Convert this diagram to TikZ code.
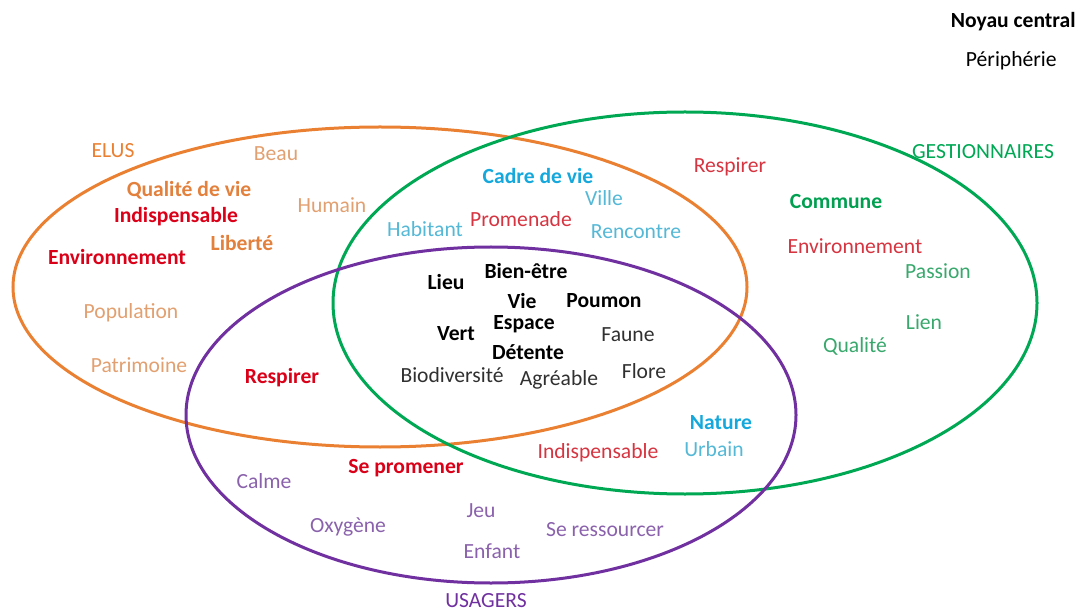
\documentclass[tikz,border=0pt]{standalone}
\usepackage{fontspec}
\setmainfont{Carlito}
\usetikzlibrary{positioning}
\definecolor{ElusOrange}{RGB}{234,128,50}
\definecolor{GestGreen}{RGB}{0,168,84}
\definecolor{UsagPurple}{RGB}{112,48,160}
\definecolor{OrangeCore}{RGB}{226,128,60}
\definecolor{OrangePeri}{RGB}{226,160,112}
\definecolor{RedCore}{RGB}{218,0,24}
\definecolor{RedPeri}{RGB}{214,52,64}
\definecolor{BlueCore}{RGB}{20,168,220}
\definecolor{BluePeri}{RGB}{84,184,214}
\definecolor{GreenCore}{RGB}{0,160,80}
\definecolor{GreenPeri}{RGB}{56,168,108}
\definecolor{PurplePeri}{RGB}{138,98,172}
\definecolor{GreyPeri}{RGB}{48,48,48}
\newcommand{\wordsize}{\fontsize{10.8}{13}\selectfont}
\tikzset{
  noyau/.style={font=\wordsize\bfseries,inner sep=0pt},
  periph/.style={font=\wordsize,inner sep=0pt},
  zone/.style={line width=1.5pt}
}

\begin{document}
\begin{tikzpicture}[x=0.5pt,y=-0.5pt]
\useasboundingbox (0,0) rectangle (1080,614);

% legend
\node[noyau,anchor=east] (legcore) at (1076,22) {Noyau central};
\node[periph,anchor=east] (legperi) at (1057,61) {Périphérie};

% the three groups
\draw[zone,ElusOrange] (380,287) ellipse [x radius=367,y radius=160];
\draw[zone,GestGreen] (685,303) ellipse [x radius=352,y radius=191];
\draw[zone,UsagPurple] (491,415) ellipse [x radius=305,y radius=168];

\node[periph,ElusOrange] (elus) at (113,151) {ELUS};
\node[periph,GestGreen] (gest) at (983,152) {GESTIONNAIRES};
\node[periph,UsagPurple] (usag) at (486,601) {USAGERS};

% elus
\node[periph,OrangePeri] (beau) at (276,154) {Beau};
\node[noyau,OrangeCore] (qualvie) at (189,190) {Qualité de vie};
\node[periph,OrangePeri] (humain) at (332,205) {Humain};
\node[noyau,RedCore] (indisp1) at (176,217) {Indispensable};
\node[noyau,OrangeCore] (liberte) at (242,243) {Liberté};
\node[noyau,RedCore] (envir1) at (117,257) {Environnement};
\node[periph,OrangePeri] (popul) at (131,313) {Population};
\node[periph,OrangePeri] (patri) at (139,365) {Patrimoine};
\node[noyau,RedCore] (respi1) at (282,378) {Respirer};

% elus et gestionnaires
\node[noyau,BlueCore] (cadre) at (538,176) {Cadre de vie};
\node[periph,BluePeri] (ville) at (604,198) {Ville};
\node[periph,BluePeri] (habit) at (425,229) {Habitant};
\node[periph,RedPeri] (prom) at (521,219) {Promenade};
\node[periph,BluePeri] (renc) at (636,232) {Rencontre};

% gestionnaires
\node[periph,RedPeri] (respi2) at (730,167) {Respirer};
\node[noyau,GreenCore] (commune) at (836,202) {Commune};
\node[periph,RedPeri] (envir2) at (855,246) {Environnement};
\node[periph,GreenPeri] (passion) at (938,271) {Passion};
\node[periph,GreenPeri] (lien) at (924,322) {Lien};
\node[periph,GreenPeri] (qualite) at (855,346) {Qualité};

% commun aux trois
\node[noyau] (lieu) at (446,282) {Lieu};
\node[noyau] (bienetre) at (526,271) {Bien-être};
\node[noyau] (vie) at (522,301) {Vie};
\node[noyau] (poumon) at (604,301) {Poumon};
\node[noyau] (vert) at (456,334) {Vert};
\node[noyau] (espace) at (524,324) {Espace};
\node[periph,GreyPeri] (faune) at (628,335) {Faune};
\node[noyau] (detente) at (528,352) {Détente};
\node[periph,GreyPeri] (biodiv) at (452,375) {Biodiversité};
\node[periph,GreyPeri] (agreable) at (559,380) {Agréable};
\node[periph,GreyPeri] (flore) at (644,371) {Flore};

% gestionnaires et usagers
\node[noyau,BlueCore] (nature) at (721,423) {Nature};
\node[periph,BluePeri] (urbain) at (714,449) {Urbain};
\node[periph,RedPeri] (indisp2) at (598,453) {Indispensable};

% usagers
\node[noyau,RedCore] (sepro) at (406,468) {Se promener};
\node[periph,PurplePeri] (calme) at (264,481) {Calme};
\node[periph,PurplePeri] (oxyg) at (348,527) {Oxygène};
\node[periph,PurplePeri] (jeu) at (481,511) {Jeu};
\node[periph,PurplePeri] (enfant) at (492,551) {Enfant};
\node[periph,PurplePeri] (seress) at (605,530) {Se ressourcer};

\end{tikzpicture}
\end{document}
